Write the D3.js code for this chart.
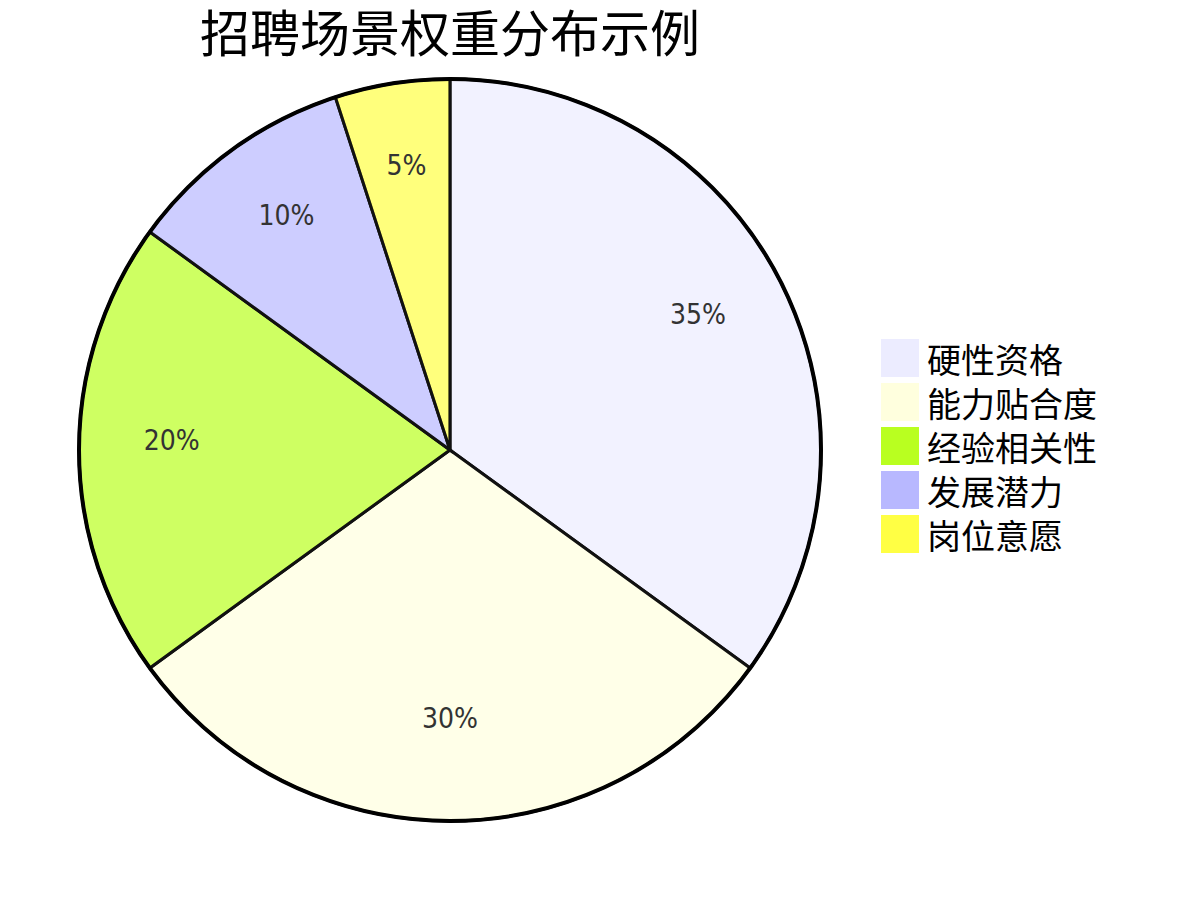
<!DOCTYPE html>
<html>
<head>
<meta charset="utf-8">
<script src="https://cdn.jsdelivr.net/npm/d3@7"></script>
<style>
  body { margin: 0; background: #fff; }
  svg { display: block; }
</style>
</head>
<body>
<div id="chart"></div>
<script>
// data
const TITLE = "招聘场景权重分布示例";
const categories = ["硬性资格", "能力贴合度", "经验相关性", "发展潜力", "岗位意愿"];
const values = [35, 30, 20, 10, 5];
const colors = ["#ECECFF", "#FFFFDE", "#B9FF20", "#B8B8FF", "#FFFF44"];

const W = 1197, H = 900;
const cx = 450, cy = 450, radius = 371;

const svg = d3.select("#chart").append("svg")
  .attr("width", W)
  .attr("height", H);

const data = categories.map((c, i) => ({ label: c, value: values[i] }));

const color = d3.scaleOrdinal().domain(categories).range(colors);

const pie = d3.pie().sort(null).value(d => d.value);
const arc = d3.arc().innerRadius(0).outerRadius(radius);
const labelArc = d3.arc().innerRadius(radius * 0.75).outerRadius(radius * 0.75);

const g = svg.append("g").attr("transform", `translate(${cx},${cy})`);

// slices
g.selectAll(".slice")
  .data(pie(data))
  .enter()
  .append("path")
  .attr("class", "slice")
  .attr("d", arc)
  .attr("fill", d => color(d.data.label))
  .attr("fill-opacity", 0.7)
  .attr("stroke", "#111")
  .attr("stroke-width", 3);

// outer circle
g.append("circle")
  .attr("r", radius)
  .attr("fill", "none")
  .attr("stroke", "#000")
  .attr("stroke-width", 4);

// percentage labels
const total = d3.sum(values);
g.selectAll(".pct")
  .data(pie(data))
  .enter()
  .append("text")
  .attr("class", "pct")
  .attr("transform", d => `translate(${labelArc.centroid(d)})`)
  .attr("text-anchor", "middle")
  .attr("font-family", "'DejaVu Sans Condensed', 'DejaVu Sans', sans-serif")
  .attr("font-size", "28px")
  .attr("fill", "#333")
  .text(d => Math.round(d.data.value / total * 100) + "%");

// title
svg.append("text")
  .attr("x", cx)
  .attr("y", 52)
  .attr("text-anchor", "middle")
  .attr("font-family", "'Noto Sans CJK SC', sans-serif")
  .attr("font-size", "50px")
  .attr("fill", "#000")
  .text(TITLE);

// legend
const legend = svg.append("g").attr("transform", "translate(881,339)");
const item = legend.selectAll(".legend")
  .data(categories)
  .enter()
  .append("g")
  .attr("class", "legend")
  .attr("transform", (d, i) => `translate(0,${i * 44})`);

item.append("rect")
  .attr("width", 38)
  .attr("height", 38)
  .attr("fill", d => color(d));

item.append("text")
  .attr("x", 46)
  .attr("y", 19)
  .attr("dominant-baseline", "central")
  .attr("font-family", "'Noto Sans CJK SC', sans-serif")
  .attr("font-size", "34px")
  .attr("fill", "#000")
  .text(d => d);
</script>
</body>
</html>
